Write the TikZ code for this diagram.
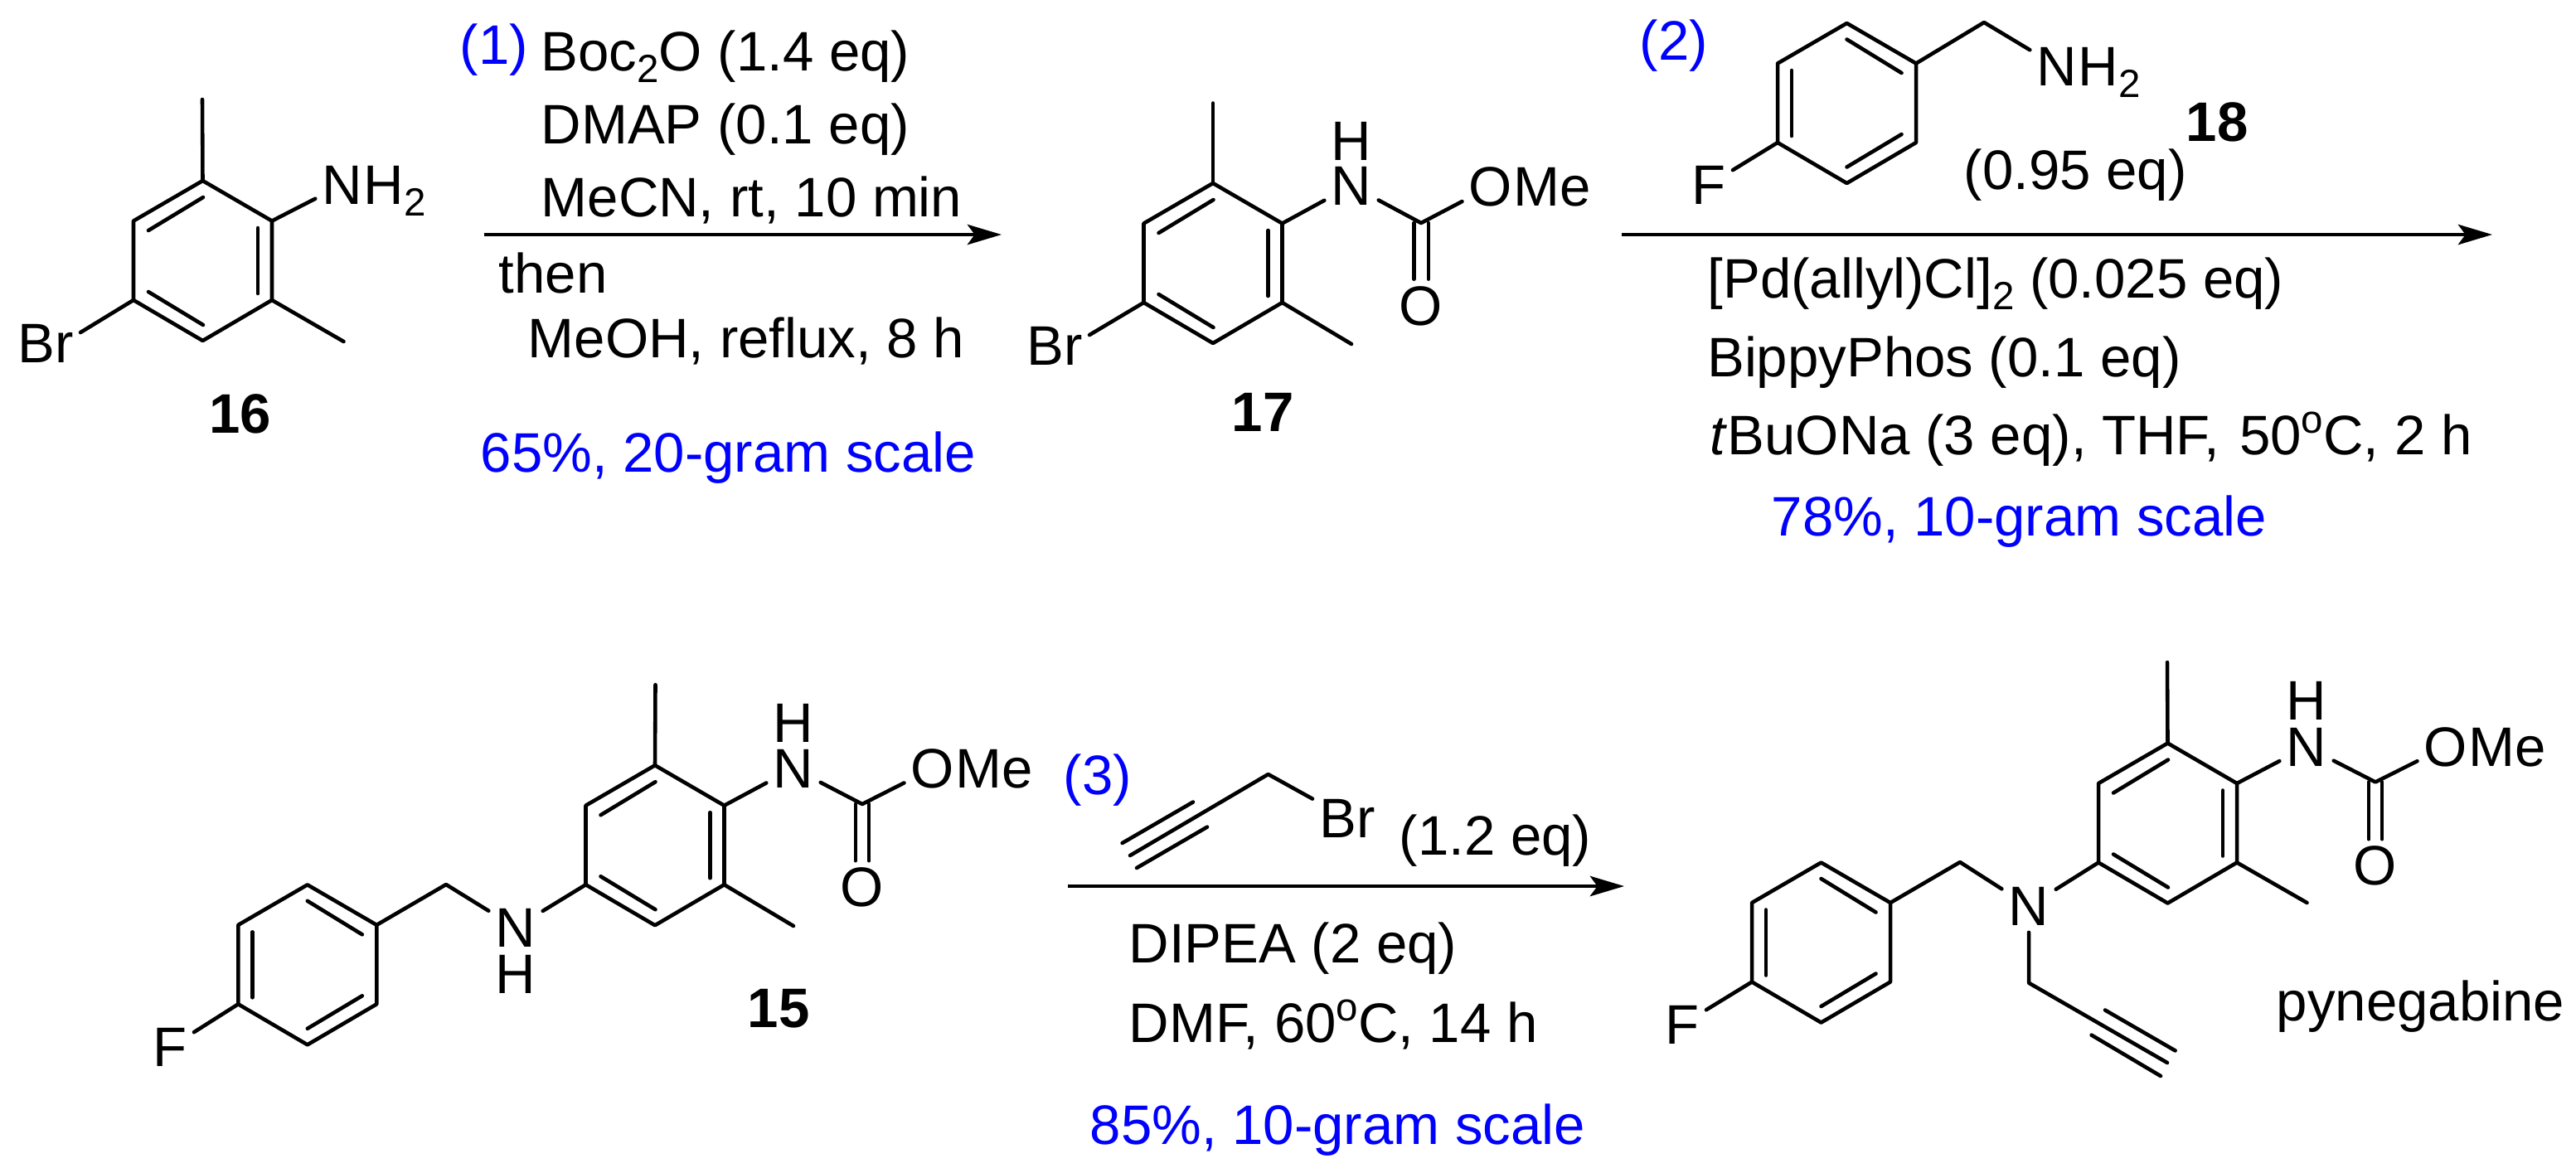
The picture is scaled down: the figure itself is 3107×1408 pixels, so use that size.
\documentclass[tikz,border=0pt]{standalone}
\usepackage{fontspec}
\setmainfont{Liberation Sans}
\usetikzlibrary{arrows.meta}
\newcommand{\subs}[1]{\raisebox{-4pt}{\fontsize{13.5}{14}\selectfont #1}}
\newcommand{\degr}{\raisebox{7.4pt}{\fontsize{13.5}{14}\selectfont o}}
\newcommand{\ringbody}{
  \coordinate (-t) at (0,-96.5); \coordinate (-ur) at (83.5,-48);
  \coordinate (-lr) at (83.5,47.5); \coordinate (-b) at (0,96.5);
  \coordinate (-ll) at (-83.5,47.5); \coordinate (-ul) at (-83.5,-48);
  \draw[bond] (-t) -- (-ur) -- (-lr) -- (-b) -- (-ll) -- (-ul) -- cycle;
}
\tikzset{
  bond/.style={line width=1.3pt,line cap=round,line join=round},
  rxn/.style={line width=1.35pt,-{Stealth[length=11.7pt,width=6.9pt,inset=2.5pt]}},
  atom/.style={anchor=base,inner sep=2.2pt},
  hatom/.style={anchor=base,inner sep=0pt},
  suffix/.style={anchor=base west,inner sep=0pt,xshift=-2.2pt},
  reagent/.style={anchor=base west,inner sep=0pt},
  yield/.style={reagent,text=blue},
  cpd/.style={anchor=base,inner sep=0pt,font=\fontsize{19.1}{22}\selectfont\bfseries},
  ringa/.pic={\ringbody
    \draw[bond] (-65.5,-36.5) -- (0.5,-76.5);
    \draw[bond] (66.5,-39.5) -- (66.5,39.5);
    \draw[bond] (-65.5,37.5) -- (0.5,77.5);},
  ringb/.pic={\ringbody
    \draw[bond] (0,-77) -- (66,-36.5);
    \draw[bond] (-66.5,-39.5) -- (-66.5,39.5);
    \draw[bond] (0,77) -- (66,37.5);},
}
\begin{document}
\begin{tikzpicture}[x=0.01cm,y=-0.01cm,font=\fontsize{19.1}{22}\selectfont]
\useasboundingbox (0,0) rectangle (3107,1408);

% 16
\pic (r16) at (244.5,314.5) {ringa};
\coordinate (me16a) at (244,120);
\coordinate (me16b) at (414.5,412);
\node[atom] (n16) at (413,246) {N};
\node[suffix] (h16) at (n16.base east) {H\subs{2}};
\node[atom] (br16) at (55,437) {Br};
\node[cpd] (c16) at (290,522) {16};
\draw[bond] (r16-t) -- (me16a);
\draw[bond] (r16-lr) -- (me16b);
\draw[bond] (r16-ur) -- (n16);
\draw[bond] (r16-ll) -- (br16.17);

% step 1
\coordinate (arrow1a) at (584,283);
\coordinate (arrow1b) at (1208,283);
\draw[rxn] (arrow1a) -- (arrow1b);
\node[yield] (s1) at (554,77) {(1)};
\node[reagent] (boc) at (652,85) {Boc\subs{2}O (1.4 eq)};
\node[reagent] (dmap) at (652,173) {DMAP (0.1 eq)};
\node[reagent] (mecn) at (652,261) {MeCN, rt, 10 min};
\node[reagent] (then) at (601,353) {then};
\node[reagent] (meoh) at (636,431) {MeOH, reflux, 8 h};
\node[yield] (y1) at (579,569) {65\%, 20-gram scale};

% 17
\pic (r17) at (1463,317.5) {ringa};
\coordinate (me17a) at (1463,124.5);
\coordinate (me17b) at (1630,415);
\coordinate (co17) at (1714,269);
\node[atom] (n17) at (1630,247) {N};
\node[hatom] (h17) at (1630,193) {H};
\node[atom] (o17) at (1798,248) {O};
\node[suffix] (m17) at (o17.base east) {Me};
\node[atom] (ox17) at (1714,392) {O};
\node[atom] (br17) at (1272,440) {Br};
\node[cpd] (c17) at (1523,520) {17};
\draw[bond] (r17-t) -- (me17a);
\draw[bond] (r17-lr) -- (me17b);
\draw[bond] (r17-ur) -- (n17);
\draw[bond] (r17-ll) -- (br17.17);
\draw[bond] (n17) -- (co17) -- (o17);
\draw[bond] ([xshift=-2.5pt]co17) -- ([xshift=-2.5pt]ox17.north);
\draw[bond] ([xshift=2.5pt]co17) -- ([xshift=2.5pt]ox17.north);

% step 2
\coordinate (arrow2a) at (1956,283);
\coordinate (arrow2b) at (3006,283);
\draw[rxn] (arrow2a) -- (arrow2b);
\node[yield] (s2) at (1977,72) {(2)};
\pic (r18) at (2227.5,124.5) {ringb};
\coordinate (ch18) at (2393,27);
\node[atom] (n18) at (2481,103) {N};
\node[suffix] (h18) at (n18.base east) {H\subs{2}};
\node[atom] (f18) at (2061,246) {F};
\node[cpd] (c18) at (2674,170) {18};
\draw[bond] (r18-ur) -- (ch18) -- (n18);
\draw[bond] (r18-ll) -- (f18);
\node[reagent] (eq18) at (2368,228) {(0.95 eq)};
\node[reagent] (pd) at (2059,359) {[Pd(allyl)Cl]\subs{2} (0.025 eq)};
\node[reagent] (bippy) at (2058.5,454) {BippyPhos (0.1 eq)};
\node[reagent] (tbu) at (2062,548.6) {\textit{t}BuONa (3 eq), THF,\ \hspace{1.5pt}50\degr C, 2 h};
\node[yield] (y2) at (2136,646) {78\%, 10-gram scale};

% 15
\pic (r15) at (790,1019.7) {ringa};
\pic (q15) at (370.8,1163.8) {ringb};
\coordinate (me15a) at (790.5,826);
\coordinate (me15b) at (957,1117);
\coordinate (co15) at (1040,970);
\coordinate (ch15) at (538,1067);
\node[atom] (n15) at (957,950) {N};
\node[hatom] (h15) at (957,895) {H};
\node[atom] (o15) at (1125,950) {O};
\node[suffix] (m15) at (o15.base east) {Me};
\node[atom] (ox15) at (1040,1093.6) {O};
\node[atom] (nb15) at (622,1142) {N};
\node[hatom] (hb15) at (622,1198) {H};
\node[atom] (f15) at (205,1286.6) {F};
\node[cpd] (c15) at (939,1239) {15};
\draw[bond] (r15-t) -- (me15a);
\draw[bond] (r15-lr) -- (me15b);
\draw[bond] (r15-ur) -- (n15);
\draw[bond] (n15) -- (co15) -- (o15);
\draw[bond] ([xshift=-2.3pt]co15) -- ([xshift=-2.3pt]ox15.north);
\draw[bond] ([xshift=2.3pt]co15) -- ([xshift=2.3pt]ox15.north);
\draw[bond] (r15-ll) -- (nb15);
\draw[bond] (q15-ur) -- (ch15) -- (nb15);
\draw[bond] (q15-ll) -- (f15);

% step 3
\coordinate (arrow3a) at (1288,1069);
\coordinate (arrow3b) at (1959,1069);
\draw[rxn] (arrow3a) -- (arrow3b);
\node[yield] (s3) at (1282,958) {(3)};
\coordinate (ch3) at (1529.6,934);
\coordinate (yn3) at (1363,1032);
\coordinate (yn3a) at (1353.6,1017);
\coordinate (yn3b) at (1439,967.5);
\coordinate (yn3c) at (1371,1047);
\coordinate (yn3d) at (1456,997.6);
\node[atom] (br3) at (1625,1010) {Br};
\draw[bond] (yn3) -- (ch3) -- (br3);
\draw[bond] (yn3a) -- (yn3b);
\draw[bond] (yn3c) -- (yn3d);
\node[reagent] (eq3) at (1687,1031) {(1.2 eq)};
\node[reagent] (dipea) at (1361,1161) {DIPEA (2 eq)};
\node[reagent] (dmf) at (1361,1257) {DMF, 60\degr C, 14 h};
\node[yield] (y3) at (1314,1380) {85\%, 10-gram scale};

% pynegabine
\pic (rp) at (2614.5,993) {ringa};
\pic (qp) at (2196.5,1137) {ringb};
\coordinate (mepa) at (2614,799);
\coordinate (mepb) at (2782.5,1089);
\coordinate (cop) at (2865,943.4);
\coordinate (chp) at (2364,1040);
\coordinate (chq) at (2447,1185.7);
\coordinate (ynp) at (2614,1282);
\coordinate (ynpa) at (2539,1218.5);
\coordinate (ynpb) at (2623.6,1267.4);
\coordinate (ynpc) at (2522.6,1248.6);
\coordinate (ynpd) at (2606,1298);
\node[atom] (np) at (2782,924) {N};
\node[hatom] (hp) at (2782,868) {H};
\node[atom] (op) at (2950,924) {O};
\node[suffix] (mp) at (op.base east) {Me};
\node[atom] (oxp) at (2865,1067.6) {O};
\node[atom] (nq) at (2447,1116.4) {N};
\node[atom] (fp) at (2029,1259) {F};
\node[reagent] (pyne) at (2745,1231) {pynegabine};
\draw[bond] (rp-t) -- (mepa);
\draw[bond] (rp-lr) -- (mepb);
\draw[bond] (rp-ur) -- (np);
\draw[bond] (np) -- (cop) -- (op);
\draw[bond] ([xshift=-2.3pt]cop) -- ([xshift=-2.3pt]oxp.north);
\draw[bond] ([xshift=2.3pt]cop) -- ([xshift=2.3pt]oxp.north);
\draw[bond] (rp-ll) -- (nq);
\draw[bond] (qp-ur) -- (chp) -- (nq);
\draw[bond] (qp-ll) -- (fp);
\draw[bond] (nq) -- (chq) -- (ynp);
\draw[bond] (ynpa) -- (ynpb);
\draw[bond] (ynpc) -- (ynpd);
\end{tikzpicture}
\end{document}
